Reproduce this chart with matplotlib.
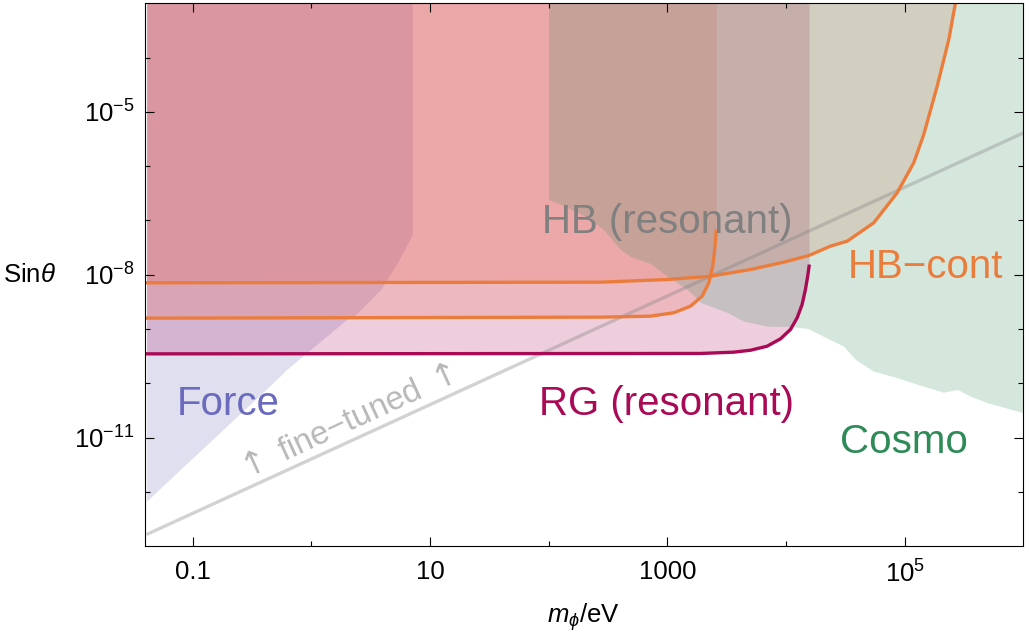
import matplotlib
matplotlib.use("Agg")
import matplotlib.pyplot as plt
from matplotlib.ticker import NullFormatter

plt.rcParams['font.family'] = ['Liberation Sans', 'DejaVu Sans']
plt.rcParams['mathtext.fontset'] = 'custom'
plt.rcParams['mathtext.rm'] = 'Liberation Sans'
plt.rcParams['mathtext.it'] = 'Liberation Sans:italic'
plt.rcParams['mathtext.sf'] = 'DejaVu Sans'

# --- data (m_phi in eV, sin theta) ---
force_m = [0.041, 0.51, 0.62, 1.98, 2.29, 3.84, 5.31, 7.10]
force_s = [6.8e-13, 1.18e-10, 1.80e-10, 1.50e-9, 1.73e-9, 5.36e-9, 1.66e-8, 5.52e-8]

rg_m = [0.041, 1905, 3631, 5023, 6934, 8995, 10914, 12417, 13677, 14588, 15241, 15668]
rg_s = [3.5e-10, 3.56e-10, 3.76e-10, 4.08e-10, 4.84e-10, 6.62e-10, 9.84e-10,
        1.61e-9, 2.84e-9, 5.36e-9, 9.42e-9, 1.44e-8]

hbres_m = [0.041, 273.5, 721, 1135, 1567, 1968, 2239, 2415, 2512, 2582]
hbres_s = [1.59e-9, 1.66e-9, 1.73e-9, 2.0e-9, 2.64e-9, 4.04e-9, 7.13e-9,
           1.44e-8, 2.92e-8, 6.35e-8]

hbcont_m = [0.041, 273.6, 998, 2312, 5023, 9572, 15560, 23714, 32810, 54954,
            86497, 119400, 144900, 187900, 235500, 267900]
hbcont_s = [7.13e-9, 7.31e-9, 8.18e-9, 9.42e-9, 1.25e-8, 1.71e-8, 2.26e-8,
            3.37e-8, 4.16e-8, 9.08e-8, 3.24e-7, 1.16e-6, 3.84e-6, 2.97e-5,
            2.15e-4, 1.02e-3]

cosmo_m = [100, 138.7, 196.8, 284.4, 403.6, 489.8, 722.8, 1005, 1479, 1905,
           3214, 4385, 6982, 10300, 15170, 25120, 30550, 38550, 54580, 86900,
           143900, 212300, 278600, 358100, 498900, 1.0e6]
cosmo_s = [2.44e-7, 1.81e-7, 1.24e-7, 7.13e-8, 2.92e-8, 2.17e-8, 1.61e-8,
           9.31e-9, 5.36e-9, 3.09e-9, 2.02e-9, 1.40e-9, 1.13e-9, 1.12e-9,
           1.03e-9, 5.98e-10, 4.84e-10, 2.75e-10, 1.68e-10, 1.27e-10, 8.87e-11,
           6.89e-11, 7.73e-11, 5.81e-11, 4.40e-11, 2.88e-11]

fine_m = [0.041, 1.0e6]
fine_s = [1.65e-13, 4.1e-6]

xticks = [0.1, 10, 1000, 1e5]
xtick_labels = ['0.1', '10', '1000', r'$10^{5}$']
xticks_minor = [1, 100, 1e4]
yticks = [1e-11, 1e-8, 1e-5]
ytick_labels = [r'$10^{-11}$', r'$10^{-8}$', r'$10^{-5}$']
yticks_minor = [1e-12, 1e-10, 1e-9, 1e-7, 1e-6, 1e-4]

# colours
c_force = '#6060b0'
c_rg = '#aa0a55'
c_fill_hb = '#eb6450'
c_orange = '#eb7d3c'
c_cosmo = '#2e8b57'

xlim = (0.04, 1e6)
ylim = (1e-13, 1e-3)
top = ylim[1]

fig = plt.figure(figsize=(10.29, 6.32), dpi=100)
ax = fig.add_axes([0.1412, 0.1356, 0.8533, 0.8592])
ax.set_xscale('log')
ax.set_yscale('log')

# shaded regions
ax.fill_between(force_m, force_s, top, color=c_force, alpha=0.2, lw=0)
ax.fill_between(rg_m, rg_s, top, color=c_rg, alpha=0.2, lw=0)
ax.fill_between(hbres_m, hbres_s, top, color=c_fill_hb, alpha=0.2, lw=0)
ax.fill_between(hbcont_m, hbcont_s, top, color=c_fill_hb, alpha=0.2, lw=0)
ax.fill_between(cosmo_m, cosmo_s, top, color=c_cosmo, alpha=0.2, lw=0)

# lines
ax.plot(fine_m, fine_s, color='gray', alpha=0.35, lw=2.4, solid_capstyle='butt')
ax.plot(hbres_m, hbres_s, color=c_orange, lw=2.4)
ax.plot(hbcont_m, hbcont_s, color=c_orange, lw=2.4)
ax.plot(rg_m, rg_s, color=c_rg, lw=2.4)

ax.set_xlim(*xlim)
ax.set_ylim(*ylim)

ax.set_xticks(xticks)
ax.set_xticklabels(xtick_labels)
ax.set_xticks(xticks_minor, minor=True)
ax.set_yticks(yticks)
ax.set_yticklabels(ytick_labels)
ax.set_yticks(yticks_minor, minor=True)
ax.xaxis.set_minor_formatter(NullFormatter())
ax.yaxis.set_minor_formatter(NullFormatter())
ax.tick_params(which='both', direction='in', top=True, right=True, width=0.8,
               labelsize=18.5)
ax.tick_params(which='major', length=6.5)
ax.tick_params(which='minor', length=3.5)
ax.tick_params(axis='x', pad=10)
ax.tick_params(axis='y', pad=8)
for sp in ax.spines.values():
    sp.set_linewidth(0.8)

# region labels
lab = dict(transform=ax.transAxes, ha='center', va='baseline', fontsize=29)
ax.text(0.0942, 0.2418, 'Force', color='#6a6abe', **lab)
ax.text(0.594, 0.5764, 'HB (resonant)', color='#808080', **lab)
ax.text(0.889, 0.4941, 'HB\u2212cont', color=c_orange, **lab)
ax.text(0.594, 0.2418, 'RG (resonant)', color=c_rg, **lab)
ax.text(0.864, 0.1724, 'Cosmo', color=c_cosmo, **lab)

# arrows taken from DejaVu (mathsf) since the Liberation ones are tiny
fine_label = '$\\mathsf{\\uparrow}$ fine\u2212tuned $\\mathsf{\\uparrow}$'
ax.text(0.2286, 0.2252, fine_label, color='#b8b8b8', transform=ax.transAxes,
        ha='center', va='center', fontsize=23.5, rotation=24.7,
        rotation_mode='anchor')

fig.text(3 / 1029, 1 - 282 / 632, r'Sin$\theta$', fontsize=18.5,
         ha='left', va='baseline')
fig.text(583 / 1029, 1 - 623 / 632, r'$m_\phi$/eV', fontsize=18.5,
         ha='center', va='baseline')

fig.savefig('out.png', dpi=100)
